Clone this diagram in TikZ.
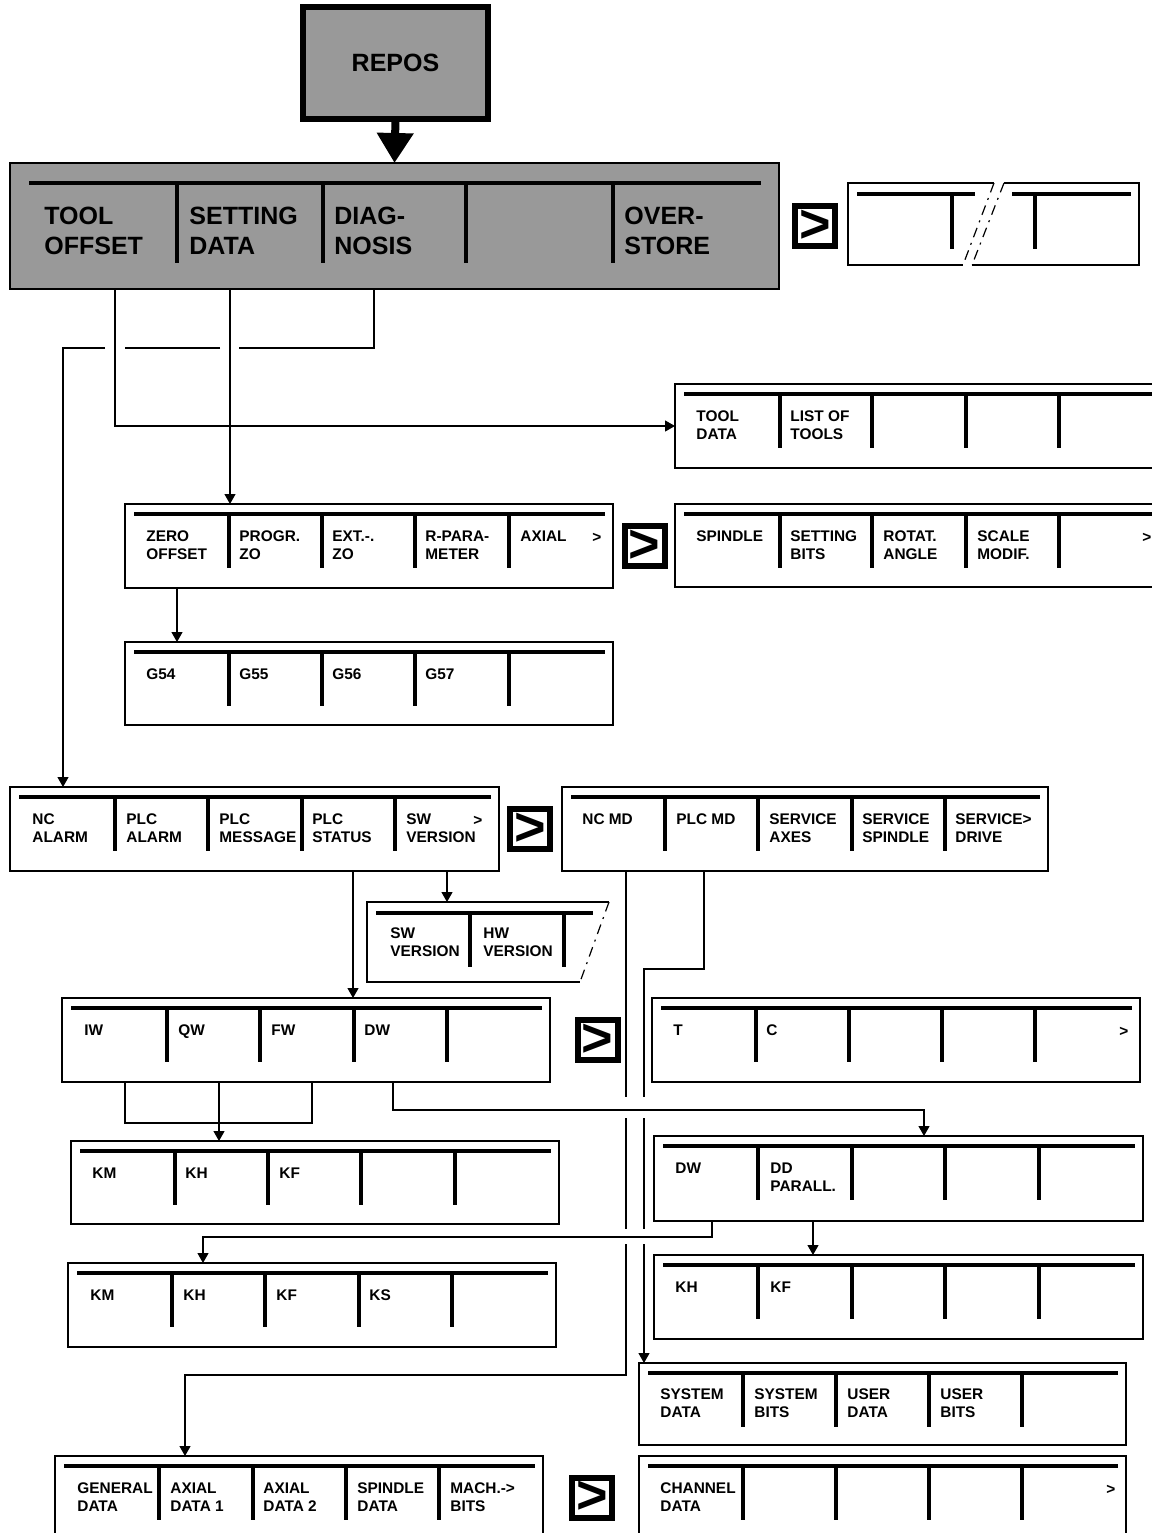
\documentclass[tikz,border=0pt]{standalone}
\usepackage{fontspec}
\setmainfont{Liberation Sans}
\usetikzlibrary{arrows.meta,positioning,fit,calc}
\definecolor{menuGray}{gray}{0.6}
\newcommand{\softkeys}[2]{%
  \draw[keybar] ([xshift=4.5pt,yshift=-5pt]#1.north west) -- ([xshift=-4pt,yshift=-5pt]#1.north east);
  \foreach \sk in {#2}
    \draw[keysep] (\sk,0 |- #1.north) ++(0,10) -- ++(0,54);
}

\begin{document}
\begin{tikzpicture}[
    x=0.5pt, y=-0.5pt,
    menu/.style={draw, line width=0.75pt, inner sep=0pt, outer sep=0pt},
    shaded/.style={menu, fill=menuGray},
    keybar/.style={line width=2pt},
    keysep/.style={line width=2pt},
    key/.style={anchor=north west, inner sep=0pt, align=left,
                font=\fontsize{7.7}{9}\selectfont\bfseries},
    tick/.style={key, anchor=base west},
    bigkey/.style={anchor=north west, inner sep=0pt, align=left,
                   font=\fontsize{12.5}{15}\selectfont\bfseries},
    more/.style={draw, line width=3pt, minimum size=20pt, inner sep=0pt,
                 font=\fontsize{27}{27}\selectfont\bfseries},
    wire/.style={line width=0.6pt},
    link/.style={wire, -{Triangle[width=5.5pt,length=5pt]}},
    cut/.style={line width=0.6pt, dash pattern=on 5pt off 3pt on 1pt off 3pt}
  ]
  \useasboundingbox (0,0) rectangle (1152,1533);

  % top menu
  \node[shaded, line width=3pt, minimum width=92.5pt, minimum height=56pt,
        font=\fontsize{12.5}{15}\selectfont\bfseries] (repos) at (395.5,63) {REPOS};
  \node[shaded, fit={(10,163) (779,289)}] (main) {};
  \draw[line width=4pt, -{Triangle[width=17.5pt,length=15pt]}] (repos.south) -- (main.north);
  \draw[keybar] (29,183) -- (761,183);
  \foreach \sk in {177,323,466,613}
    \draw[keysep] (\sk,183) -- (\sk,263);
  \node[bigkey] (mainA) at (44,207) {TOOL\\OFFSET};
  \node[bigkey] (mainB) at (189,207) {SETTING\\DATA};
  \node[bigkey] (mainC) at (334,207) {DIAG-\\NOSIS};
  \node[bigkey] (mainD) at (624,207) {OVER-\\STORE};
  \node[more] (moreA) at (815,226) {>};

  % cut-away menu
  \node[menu, draw=none, fit={(848,183) (1139,265)}] (brk) {};
  \draw[wire] (994,183) -- (brk.north west) -- (brk.south west) -- (963,265);
  \draw[wire] (1004,183) -- (brk.north east) -- (brk.south east) -- (972,265);
  \draw[cut] (994,183) -- (963,265);
  \draw[cut] (1004,183) -- (972,265);
  \draw[keybar] (857,194) -- (975,194);
  \draw[keybar] (1012,194) -- (1131,194);
  \draw[keysep] (952,194) -- (952,249);
  \draw[keysep] (1035,194) -- (1035,249);

  % tool offset
  \node[menu, fit={(675,384) (1162,468)}] (tooldata) {};
  \softkeys{tooldata}{780,872,966,1059}
  \node[key] (tooldataA) at (696,410) {TOOL\\DATA};
  \node[key] (tooldataB) at (790,410) {LIST OF\\TOOLS};

  % setting data
  \node[menu, fit={(125,504) (613,588)}] (zero) {};
  \softkeys{zero}{229,322,415,509}
  \node[key] (zeroA) at (146,530) {ZERO\\OFFSET};
  \node[key] (zeroB) at (239,530) {PROGR.\\ZO};
  \node[key] (zeroC) at (332,530) {EXT.-.\\ZO};
  \node[key] (zeroD) at (425,530) {R-PARA-\\METER};
  \node[key] (zeroE) at (520,530) {AXIAL};
  \node[tick] (zeroF) at (592,542) {>};
  \node[more] (moreB) at (644.5,546) {>};

  \node[menu, fit={(675,504) (1162,587)}] (spindle) {};
  \softkeys{spindle}{780,872,966,1059}
  \node[key] (spindleA) at (696,530) {SPINDLE};
  \node[key] (spindleB) at (790,530) {SETTING\\BITS};
  \node[key] (spindleC) at (883,530) {ROTAT.\\ANGLE};
  \node[key] (spindleD) at (977,530) {SCALE\\MODIF.};
  \node[tick] (spindleE) at (1142,542) {>};

  \node[menu, fit={(125,642) (613,725)}] (g54) {};
  \softkeys{g54}{229,322,415,509}
  \node[key] (g54A) at (146,668) {G54};
  \node[key] (g54B) at (239,668) {G55};
  \node[key] (g54C) at (332,668) {G56};
  \node[key] (g54D) at (425,668) {G57};

  % diagnosis
  \node[menu, fit={(10,787) (499,871)}] (nc) {};
  \softkeys{nc}{115,208,302,395}
  \node[key] (ncA) at (32,813) {NC\\ALARM};
  \node[key] (ncB) at (126,813) {PLC\\ALARM};
  \node[key] (ncC) at (219,813) {PLC\\MESSAGE};
  \node[key] (ncD) at (312,813) {PLC\\STATUS};
  \node[key] (ncE) at (406,813) {SW\\VERSION};
  \node[tick] (ncF) at (473,825) {>};
  \node[more] (moreC) at (530,829) {>};

  \node[menu, fit={(562,787) (1048,871)}] (ncmd) {};
  \softkeys{ncmd}{665,758,852,945}
  \node[key] (ncmdA) at (582,813) {NC MD};
  \node[key] (ncmdB) at (676,813) {PLC MD};
  \node[key] (ncmdC) at (769,813) {SERVICE\\AXES};
  \node[key] (ncmdD) at (862,813) {SERVICE\\SPINDLE};
  \node[key] (ncmdE) at (955,813) {SERVICE>\\DRIVE};

  \node[menu, draw=none, fit={(367,902) (609,982)}] (swv) {};
  \draw[wire] (609,902) -- (swv.north west) -- (swv.south west) -- (580,982);
  \draw[cut] (609,902) -- (580,982);
  \draw[keybar] (376,913) -- (593,913);
  \draw[keysep] (470,913) -- (470,967);
  \draw[keysep] (564,913) -- (564,967);
  \node[key] (swvA) at (390,927) {SW\\VERSION};
  \node[key] (swvB) at (483,927) {HW\\VERSION};

  \node[menu, fit={(62,998) (550,1082)}] (iw) {};
  \softkeys{iw}{167,260,354,447}
  \node[key] (iwA) at (84,1024) {IW};
  \node[key] (iwB) at (178,1024) {QW};
  \node[key] (iwC) at (271,1024) {FW};
  \node[key] (iwD) at (364,1024) {DW};
  \node[more] (moreD) at (597.5,1040) {>};

  \node[menu, fit={(652,998) (1140,1082)}] (tc) {};
  \softkeys{tc}{756,849,942,1035}
  \node[key] (tcA) at (673,1024) {T};
  \node[key] (tcB) at (766,1024) {C};
  \node[tick] (tcC) at (1119,1036) {>};

  \node[menu, fit={(71,1141) (559,1224)}] (km1) {};
  \softkeys{km1}{175,268,361,455}
  \node[key] (km1A) at (92,1167) {KM};
  \node[key] (km1B) at (185,1167) {KH};
  \node[key] (km1C) at (279,1167) {KF};

  \node[menu, fit={(654,1136) (1143,1221)}] (dw) {};
  \softkeys{dw}{758,852,945,1039}
  \node[key] (dwA) at (675,1162) {DW};
  \node[key] (dwB) at (770,1162) {DD\\PARALL.};

  \node[menu, fit={(68,1263) (556,1347)}] (km2) {};
  \softkeys{km2}{172,265,359,452}
  \node[key] (km2A) at (90,1289) {KM};
  \node[key] (km2B) at (183,1289) {KH};
  \node[key] (km2C) at (276,1289) {KF};
  \node[key] (km2D) at (369,1289) {KS};

  \node[menu, fit={(654,1255) (1143,1339)}] (kh) {};
  \softkeys{kh}{758,852,945,1039}
  \node[key] (khA) at (675,1281) {KH};
  \node[key] (khB) at (770,1281) {KF};

  \node[menu, fit={(639,1363) (1126,1445)}] (sysdata) {};
  \softkeys{sysdata}{743,836,929,1022}
  \node[key] (sysdataA) at (660,1388) {SYSTEM\\DATA};
  \node[key] (sysdataB) at (754,1388) {SYSTEM\\BITS};
  \node[key] (sysdataC) at (847,1388) {USER\\DATA};
  \node[key] (sysdataD) at (940,1388) {USER\\BITS};

  \node[menu, fit={(55,1456) (543,1545)}] (gen) {};
  \softkeys{gen}{159,253,346,439}
  \node[key] (genA) at (77,1482) {GENERAL\\DATA};
  \node[key] (genB) at (170,1482) {AXIAL\\DATA 1};
  \node[key] (genC) at (263,1482) {AXIAL\\DATA 2};
  \node[key] (genD) at (357,1482) {SPINDLE\\DATA};
  \node[key] (genE) at (450,1482) {MACH.->\\BITS};
  \node[more] (moreE) at (592,1497.5) {>};

  \node[menu, fit={(639,1456) (1126,1545)}] (chan) {};
  \softkeys{chan}{743,836,929,1022}
  \node[key] (chanA) at (660,1482) {CHANNEL\\DATA};
  \node[tick] (chanB) at (1106,1494) {>};

  % connections
  \draw[link] (115,0 |- main.south) |- (tooldata.west);
  \draw[link] (230,0 |- main.south) -- (230,0 |- zero.north);
  \draw[wire] (374,0 |- main.south) |- (239,348);
  \draw[wire] (220,348) -- (125,348);
  \draw[link] (105,348) -| (63,0 |- nc.north);
  \draw[link] (177,0 |- zero.south) -- (177,0 |- g54.north);
  \draw[link] (353,0 |- nc.south) -- (353,0 |- iw.north);
  \draw[link] (447,0 |- nc.south) -- (447,0 |- swv.north);
  \draw[wire] (125,0 |- iw.south) |- (312,1123) -- (312,0 |- iw.south);
  \draw[link] (219,0 |- iw.south) -- (219,0 |- km1.north);
  \draw[link] (393,0 |- iw.south) |- (924,1110) -- (924,0 |- dw.north);
  \draw[link] (712,0 |- dw.south) |- (203,1237) -- (203,0 |- km2.north);
  \draw[link] (813,0 |- dw.south) -- (813,0 |- kh.north);
  \draw[wire] (626,0 |- ncmd.south) -- (626,1097);
  \draw[wire] (626,1118) -- (626,1229);
  \draw[link] (626,1244) |- (185,1375) -- (185,0 |- gen.north);
  \draw[wire] (704,0 |- ncmd.south) |- (644,969) -- (644,1097);
  \draw[wire] (644,1118) -- (644,1229);
  \draw[link] (644,1244) -- (644,0 |- sysdata.north);
\end{tikzpicture}
\end{document}
